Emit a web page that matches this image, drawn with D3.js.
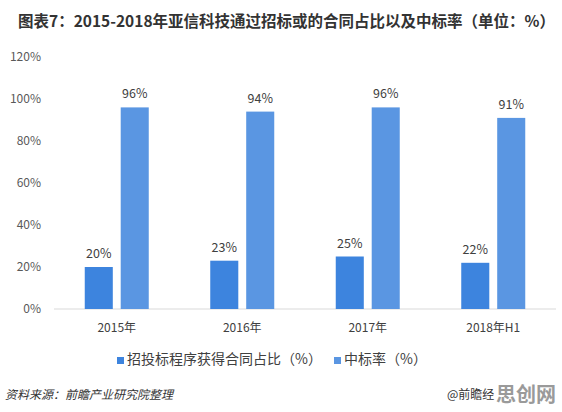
<!DOCTYPE html>
<meta charset="utf-8">
<head>
    <title>亚信科技通过招标获得的合同占比以及中标率</title>
    <script src="https://cdn.jsdelivr.net/npm/d3@7"></script>
    <style>
        body { margin: 0; background: #fff; }
        svg text { font-family: "Noto Sans CJK SC", "Noto Sans", sans-serif; }
    </style>
</head>
<body>
<div id="chart"></div>
<script>
    // data
    const years = ["2015年", "2016年", "2017年", "2018年H1"];
    const seriesNames = ["招投标程序获得合同占比（%）", "中标率（%）"];
    const contractShare = [20, 23, 25, 22];
    const winRate = [96, 94, 96, 91];
    const yTicks = [0, 20, 40, 60, 80, 100, 120];

    const width = 562, height = 412;
    const margin = {top: 57, right: 6, bottom: 103, left: 54};
    const colors = ["#3d84de", "#5a96e2"];

    const svg = d3.select("#chart").append("svg")
        .attr("width", width)
        .attr("height", height);

    // title
    svg.append("text")
        .attr("x", 18).attr("y", 27)
        .attr("font-size", 15.5).attr("font-weight", "bold")
        .attr("fill", "#333")
        .text("图表7：2015-2018年亚信科技通过招标或的合同占比以及中标率（单位：%）");

    const x0 = d3.scaleBand()
        .domain(years)
        .range([margin.left, width - margin.right]);

    const groupW = 64;
    const x1 = d3.scaleBand()
        .domain([0, 1])
        .range([0, groupW])
        .paddingInner(0.22);

    const y = d3.scaleLinear()
        .domain([0, 120])
        .range([height - margin.bottom, margin.top]);

    // y axis labels
    svg.append("g").selectAll("text")
        .data(yTicks)
        .enter().append("text")
        .attr("x", 41)
        .attr("y", d => y(d) + 4)
        .attr("text-anchor", "end")
        .attr("font-size", 12)
        .attr("fill", "#595959")
        .text(d => d + "%");

    // baseline
    svg.append("line")
        .attr("x1", margin.left).attr("x2", width - margin.right)
        .attr("y1", y(0)).attr("y2", y(0))
        .attr("stroke", "#d9d9d9").attr("stroke-width", 1);

    const rows = years.map((yr, i) => ({year: yr, vals: [contractShare[i], winRate[i]]}));

    const groups = svg.append("g").selectAll("g")
        .data(rows)
        .enter().append("g")
        .attr("transform", d => "translate(" + (x0(d.year) + (x0.bandwidth() - groupW) / 2) + ",0)");

    groups.selectAll("rect")
        .data(d => d.vals)
        .enter().append("rect")
        .attr("x", (d, i) => x1(i))
        .attr("width", x1.bandwidth())
        .attr("y", d => y(d))
        .attr("height", d => y(0) - y(d))
        .attr("fill", (d, i) => colors[i]);

    groups.selectAll("text.val")
        .data(d => d.vals)
        .enter().append("text")
        .attr("class", "val")
        .attr("x", (d, i) => x1(i) + x1.bandwidth() / 2)
        .attr("y", d => y(d) - 9)
        .attr("text-anchor", "middle")
        .attr("font-size", 12.5)
        .attr("fill", "#404040")
        .text(d => d + "%");

    // x labels
    svg.append("g").selectAll("text")
        .data(years)
        .enter().append("text")
        .attr("x", d => x0(d) + x0.bandwidth() / 2)
        .attr("y", y(0) + 23)
        .attr("text-anchor", "middle")
        .attr("font-size", 12)
        .attr("fill", "#404040")
        .text(d => d);

    // legend
    const legX = [117, 334];
    const leg = svg.append("g").selectAll("g")
        .data(seriesNames)
        .enter().append("g")
        .attr("transform", (d, i) => "translate(" + legX[i] + ",364)");
    leg.append("rect")
        .attr("x", 0).attr("y", -7)
        .attr("width", 7).attr("height", 7)
        .attr("fill", (d, i) => colors[i]);
    leg.append("text")
        .attr("x", 10).attr("y", 0)
        .attr("font-size", 14)
        .attr("fill", "#404040")
        .text(d => d);

    // footer
    svg.append("text")
        .attr("x", 5).attr("y", 399)
        .attr("font-size", 12).attr("font-style", "italic")
        .attr("fill", "#333")
        .text("资料来源：前瞻产业研究院整理");

    svg.append("text")
        .attr("x", 447).attr("y", 399)
        .attr("font-size", 12)
        .attr("fill", "#333")
        .text("@前瞻经");

    svg.append("text")
        .attr("x", 526).attr("y", 402)
        .attr("text-anchor", "middle")
        .attr("font-size", 20).attr("font-weight", "bold")
        .attr("fill", "#9a9a9a")
        .text("思创网");
</script>
</body>
